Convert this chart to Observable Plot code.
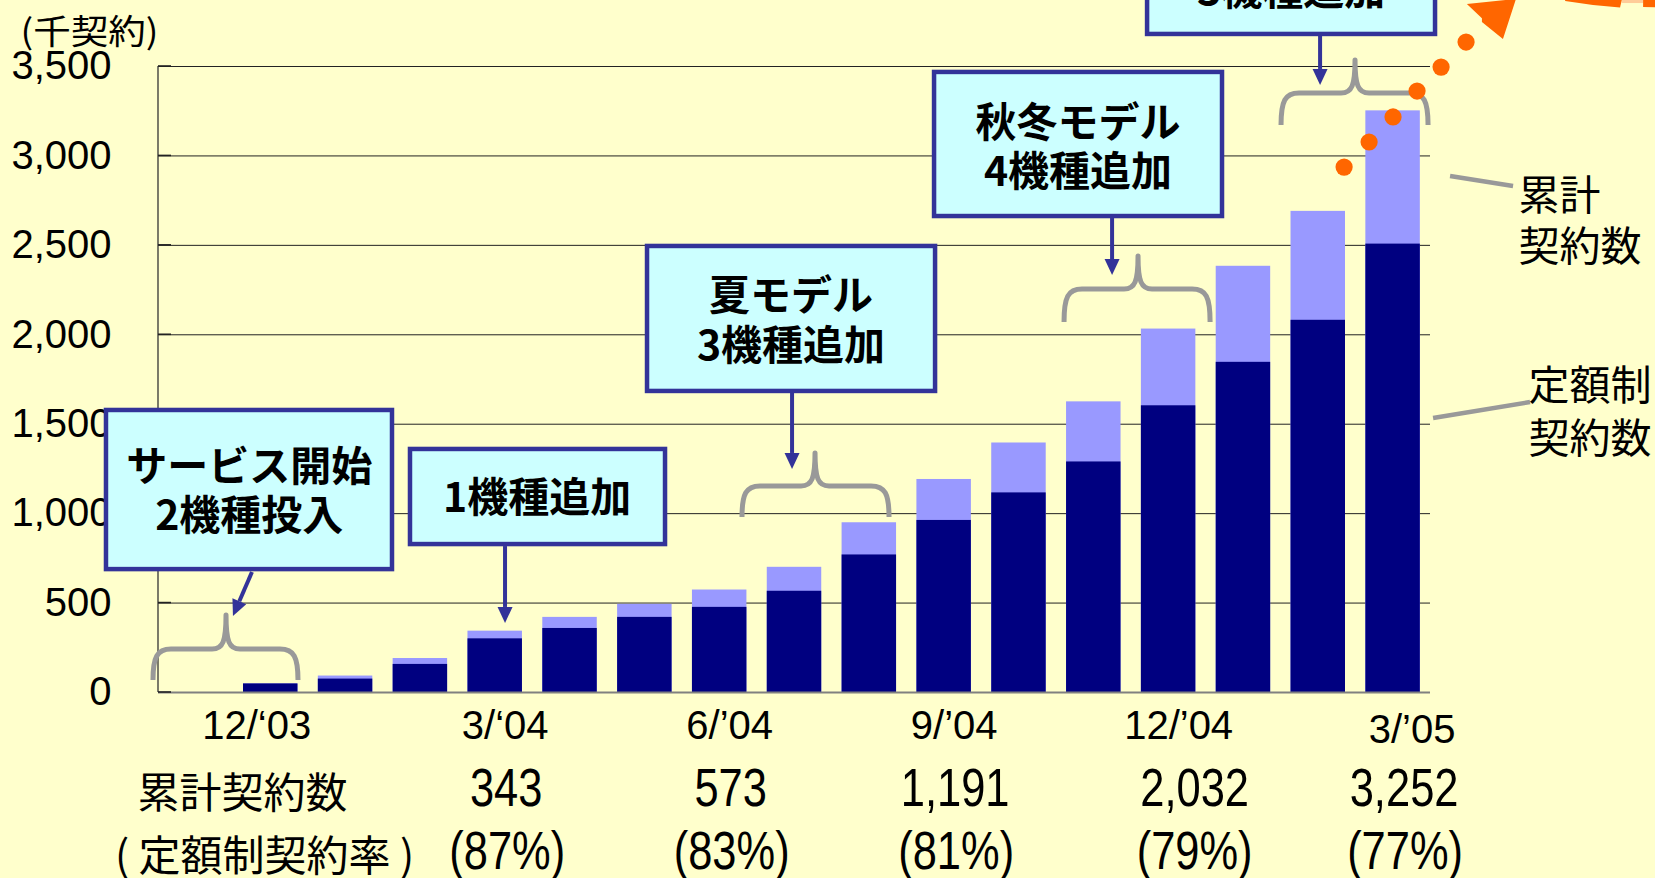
<!DOCTYPE html>
<html lang="ja"><head><meta charset="utf-8">
<script src="https://cdn.jsdelivr.net/npm/d3@7"></script>
<script src="https://cdn.jsdelivr.net/npm/@observablehq/plot@0.6"></script>
<style>
html,body{margin:0;padding:0;background:#FFFFCC;overflow:hidden;width:1655px;height:878px}
svg{display:block}
</style></head><body>
<script>
// ---------------- data ----------------
// first slot is the month before launch (no contracts yet)
const slots = ["11/03","12/03","1/04","2/04","3/04","4/04","5/04","6/04","7/04","8/04","9/04","10/04","11/04","12/04","1/05","2/05","3/05"];
const months = ["12/03","1/04","2/04","3/04","4/04","5/04","6/04","7/04","8/04","9/04","10/04","11/04","12/04","1/05","2/05","3/05"];
const totalContracts    = [48, 92, 190, 343, 420, 493, 573, 700, 949, 1191, 1395, 1625, 2032, 2383, 2690, 3252];
const flatRateContracts = [48, 75, 157, 300, 358, 420, 476, 566, 769, 962, 1116, 1289, 1603, 1846, 2081, 2507];
const yTicks = [0, 500, 1000, 1500, 2000, 2500, 3000, 3500];
const tickMonths = ["12/03","3/04","6/04","9/04","12/04","3/05"];
const tickLabels = ["12/‘03","3/‘04","6/’04","9/’04","12/’04","3/’05"];
const tableMonths = ["3/04","6/04","9/04","12/04","3/05"];
const tableTotals = ["343","573","1,191","2,032","3,252"];
const tableRates  = ["(87%)","(83%)","(81%)","(79%)","(77%)"];

const bars = months.map((m, i) => ({month: m, total: totalContracts[i], flat: flatRateContracts[i]}));
const ticks = tickMonths.map((m, i) => ({month: m, label: tickLabels[i]}));
const table = tableMonths.map((m, i) => ({month: m, total: tableTotals[i], rate: tableRates[i]}));

// ---------------- annotations (slot units u / value units v) ----------------
const boxes = [
  {u1: -1.222, u2: 2.654, vTop: 1588, vBot: 676, u: 0.72, lines: [["サービス開始", 1264], ["2機種投入", 990]]},
  {u1: 2.841, u2: 6.303, vTop: 1370, vBot: 816, u: 4.566, lines: [["1機種追加", 1090]]},
  {u1: 6.009, u2: 9.912, vTop: 2505, vBot: 1672, u: 7.96, lines: [["夏モデル", 2220], ["3機種追加", 1940]]},
  {u1: 9.845, u2: 13.747, vTop: 3478, vBot: 2650, u: 11.796, lines: [["秋冬モデル", 3187], ["4機種追加", 2913]]},
  {u1: 12.692, u2: 16.594, vTop: 4495, vBot: 3668, u: 14.643, lines: [["3機種追加", 3925]]}
];
const arrows = [
  {u1: 0.756, v1: 671, u2: 0.502, v2: 425},
  {u1: 4.138, v1: 816, u2: 4.138, v2: 386},
  {u1: 7.974, v1: 1672, u2: 7.974, v2: 1247},
  {u1: 12.251, v1: 2650, u2: 12.251, v2: 2331},
  {u1: 15.031, v1: 3668, u2: 15.031, v2: 3394}
];
const braces = [
  {u1: -0.567, u2: 1.371, up: 0.409, vH: 240, vB: 67, vP: 430},
  {u1: 7.305, u2: 9.270, up: 8.281, vH: 1152, vB: 978, vP: 1336},
  {u1: 11.609, u2: 13.561, up: 12.598, vH: 2253, vB: 2069, vP: 2438},
  {u1: 14.509, u2: 16.474, up: 15.498, vH: 3349, vB: 3170, vP: 3534}
];
const trendU = [15.352, 15.686, 16.006, 16.327, 16.648, 16.982];
const trendV = [2935, 3075, 3215, 3360, 3494, 3634];
const leaders = [
  {u1: 16.768, v1: 2885, u2: 17.610, v2: 2829},
  {u1: 16.541, v1: 1532, u2: 17.837, v2: 1621}
];

const SANS = "'Liberation Sans', Arial, sans-serif";
const NARROW = "'Liberation Sans Narrow', 'Arial Narrow', 'Liberation Sans', Arial, sans-serif";
const JP = "'Noto Sans CJK JP', 'Noto Sans', sans-serif";
const NAVY = "#333399", ORANGE = "#FF6600", GREY = "#999999";

function annotations(index, scales) {
  const x = scales.x, y = scales.y;
  const bw = x.bandwidth(), step = x.step();
  const X = u => x(slots[0]) + bw / 2 + u * step;
  const Y = v => y(v);
  const pts = a => a.map(([u, v]) => X(u) + "," + Y(v)).join(" ");
  const g = d3.create("svg:g");
  // axis line + inner ticks
  g.append("line").attr("x1", X(-0.5)).attr("x2", X(-0.5)).attr("y1", Y(3500)).attr("y2", Y(0))
    .attr("stroke", "#333").attr("stroke-width", 1.3);
  for (const t of yTicks) g.append("line").attr("x1", X(-0.5)).attr("x2", X(-0.5) + 13)
    .attr("y1", Y(t)).attr("y2", Y(t)).attr("stroke", "#222").attr("stroke-width", 1.6);
  // braces
  for (const b of braces) {
    const x1 = X(b.u1), x2 = X(b.u2), xp = X(b.up), yh = Y(b.vH), yb = Y(b.vB), yp = Y(b.vP);
    const p = d3.path();
    p.moveTo(x1, yb);
    p.bezierCurveTo(x1, yh + 8, x1 + 4, yh, x1 + 18, yh);
    p.lineTo(xp - 14, yh);
    p.bezierCurveTo(xp - 3, yh, xp, yh - 8, xp, yp);
    p.bezierCurveTo(xp, yh - 8, xp + 3, yh, xp + 14, yh);
    p.lineTo(x2 - 18, yh);
    p.bezierCurveTo(x2 - 4, yh, x2, yh + 8, x2, yb);
    g.append("path").attr("d", p.toString()).attr("fill", "none").attr("stroke", GREY)
      .attr("stroke-width", 5).attr("stroke-linejoin", "round");
  }
  // leader lines
  for (const l of leaders) g.append("line").attr("x1", X(l.u1)).attr("y1", Y(l.v1)).attr("x2", X(l.u2)).attr("y2", Y(l.v2))
    .attr("stroke", GREY).attr("stroke-width", 4.5);
  // boxes
  for (const b of boxes) {
    const x1 = X(b.u1), x2 = X(b.u2), y1 = Y(b.vTop), y2 = Y(b.vBot);
    g.append("rect").attr("x", x1 + 2).attr("y", y1 + 2).attr("width", x2 - x1 - 4).attr("height", y2 - y1 - 4)
      .attr("fill", "#CCFFFF").attr("stroke", NAVY).attr("stroke-width", 4.5);
    for (const [t, v] of b.lines) g.append("text").attr("x", X(b.u)).attr("y", Y(v)).attr("dy", "0.37em")
      .attr("text-anchor", "middle").attr("font-family", JP).attr("font-weight", "bold").attr("font-size", 41)
      .attr("fill", "#000").text(t);
  }
  // arrows
  for (const a of arrows) {
    const x1 = X(a.u1), y1 = Y(a.v1), x2 = X(a.u2), y2 = Y(a.v2);
    const L = Math.hypot(x2 - x1, y2 - y1), ux = (x2 - x1) / L, uy = (y2 - y1) / L;
    const hl = 16, hw = 7.5, bx = x2 - ux * hl, by = y2 - uy * hl;
    g.append("line").attr("x1", x1).attr("y1", y1).attr("x2", bx).attr("y2", by).attr("stroke", NAVY).attr("stroke-width", 4);
    g.append("polygon").attr("points", [[x2, y2], [bx - uy * hw, by + ux * hw], [bx + uy * hw, by - ux * hw]].map(p => p.join(",")).join(" "))
      .attr("fill", NAVY);
  }
  // orange trend dots, arrow head and the edge of the big arrow above the chart
  trendU.forEach((u, i) => g.append("circle").attr("cx", X(u)).attr("cy", Y(trendV[i])).attr("r", 8.6).attr("fill", ORANGE));
  g.append("polygon").attr("fill", ORANGE)
    .attr("points", pts([[16.993, 3847], [17.649, 3875], [17.475, 3651], [17.194, 3746], [17.194, 3767]]));
  g.append("polygon").attr("fill", ORANGE)
    .attr("points", pts([[18.306, 3875], [19.067, 3875], [19.040, 3827], [18.678, 3841], [18.306, 3863]]));
  g.append("polygon").attr("fill", "#FFCC99")
    .attr("points", pts([[19.067, 3875], [19.348, 3875], [19.348, 3852], [19.067, 3852]]));
  g.append("polygon").attr("fill", ORANGE)
    .attr("points", pts([[19.348, 3875], [19.60, 3875], [19.60, 3827], [19.348, 3830]]));
  return g.node();
}

const plot = Plot.plot({
  width: 1655, height: 878,
  marginLeft: 158, marginRight: 225, marginTop: 66, marginBottom: 186,
  style: {background: "#FFFFCC", color: "black", fontFamily: SANS, fontSize: "40px", overflow: "hidden"},
  x: {type: "band", domain: slots, paddingInner: 0.272, paddingOuter: 0.136, round: false, axis: null},
  y: {domain: [0, 3500], axis: null},
  marks: [
    Plot.ruleY(yTicks.filter(d => d > 0), {stroke: "#222222", strokeWidth: 1}),
    Plot.barY(bars, {x: "month", y: "total", fill: "#9999FF"}),
    Plot.barY(bars, {x: "month", y: "flat", fill: "#000080"}),
    Plot.ruleY([0], {stroke: "#808080", strokeWidth: 2}),
    Plot.text(yTicks, {y: d => d, text: d => d3.format(",")(d), frameAnchor: "left", textAnchor: "end", dx: -47, fontSize: 40, fontFamily: SANS}),
    Plot.text(["(千契約)"], {text: d => d, frameAnchor: "top-left", textAnchor: "start", lineAnchor: "bottom", dx: -138, dy: -23, fontSize: 34, fontFamily: JP}),
    annotations,
    Plot.text(ticks.slice(0, 1), {x: "month", text: "label", frameAnchor: "bottom", lineAnchor: "bottom", dy: 46, dx: -14, fontSize: 40, fontFamily: SANS}),
    Plot.text(ticks.slice(1, 5), {x: "month", text: "label", frameAnchor: "bottom", lineAnchor: "bottom", dy: 46, dx: 10, fontSize: 40, fontFamily: SANS}),
    Plot.text(ticks.slice(5), {x: "month", text: "label", frameAnchor: "bottom", lineAnchor: "bottom", dy: 50, dx: 19, fontSize: 40, fontFamily: SANS}),
    Plot.text(["累計契約数"], {text: d => d, frameAnchor: "bottom-left", textAnchor: "middle", lineAnchor: "bottom", dx: 84, dy: 115, fontSize: 42, fontFamily: JP}),
    Plot.text(["( 定額制契約率 )"], {text: d => d, frameAnchor: "bottom-left", textAnchor: "middle", lineAnchor: "bottom", dx: 106, dy: 178, fontSize: 42, fontFamily: JP}),
    Plot.text(table.filter((d, i) => i !== 3), {x: "month", text: "total", frameAnchor: "bottom", lineAnchor: "bottom", dy: 113, dx: 11, fontSize: 53, fontFamily: NARROW}),
    Plot.text(table.filter((d, i) => i !== 3), {x: "month", text: "rate", frameAnchor: "bottom", lineAnchor: "bottom", dy: 176, dx: 12, fontSize: 53, fontFamily: NARROW}),
    Plot.text(table.filter((d, i) => i === 3), {x: "month", text: "total", frameAnchor: "bottom", lineAnchor: "bottom", dy: 113, dx: 26, fontSize: 53, fontFamily: NARROW}),
    Plot.text(table.filter((d, i) => i === 3), {x: "month", text: "rate", frameAnchor: "bottom", lineAnchor: "bottom", dy: 176, dx: 26, fontSize: 53, fontFamily: NARROW}),
    Plot.text(["累計\n契約数"], {text: d => d, frameAnchor: "top-right", textAnchor: "start", lineAnchor: "top", lineHeight: 51 / 41, dx: 88, dy: 107, fontSize: 41, fontFamily: JP}),
    Plot.text(["定額制\n契約数"], {text: d => d, frameAnchor: "top-right", textAnchor: "start", lineAnchor: "top", lineHeight: 53 / 41, dx: 98, dy: 296, fontSize: 41, fontFamily: JP})
  ]
});
document.body.appendChild(plot);
// the table figures are set in a condensed face: squeeze the regular face when no narrow face is installed
d3.select(plot).selectAll("g").filter(function () { return this.getAttribute("font-family") === NARROW; })
  .selectAll("text").each(function () {
    const w = this.getComputedTextLength();
    const size = 53, expected = this.textContent.length * 0.5 * size; // rough width of a regular face
    if (w > 0 && w > expected * 0.95) {
      this.setAttribute("textLength", (w * 0.82).toFixed(1));
      this.setAttribute("lengthAdjust", "spacingAndGlyphs");
    }
  });
d3.select(plot).selectAll("text").filter(function () { return this.textContent === "(千契約)"; })
  .attr("textLength", 138).attr("lengthAdjust", "spacingAndGlyphs");
</script>
</body></html>
